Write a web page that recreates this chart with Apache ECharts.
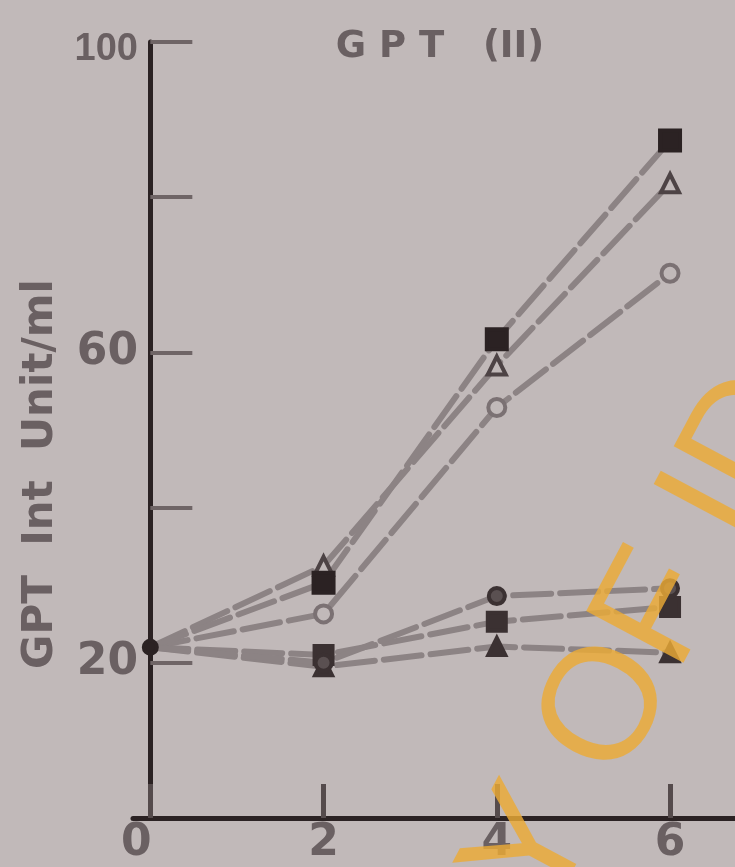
<!DOCTYPE html>
<html>
<head>
<meta charset="utf-8">
<script src="https://cdn.jsdelivr.net/npm/echarts@6/dist/echarts.min.js"></script>
<style>
  html, body { margin: 0; padding: 0; background: #c1b9b9; }
  #chart { width: 735px; height: 867px; }
</style>
</head>
<body>
<div id="chart"></div>
<script>
// Sampling days and serum GPT values (Int Unit/ml)
const days = [0, 2, 4, 6];
const xTickValues = [0, 2, 4, 6];
const yTickValues = [20, 40, 60, 80, 100];
const yLabelValues = [20, 60, 100];

// rising group
const upperSquare   = [22, 30.3, 61.7, 87.3];
const upperTriangle = [22, 32.5, 58.3, 81.8];
const upperCircle   = [22, 26.3, 52.9, 70.2];
// flat group
const lowerSquare   = [22, 21.0, 25.3, 27.2];
const lowerCircle   = [22, 20.0, 28.6, 29.6];
const lowerTriangle = [22, 19.5, 22.1, 21.3];

const BG = '#c1b9b9';
const INK = '#2b2223';
const TEXT = '#6a6062';
const LINE = '#8c8384';

function points(values, origin) {
  return values.map(function (v, i) {
    const item = { value: [days[i], v] };
    if (i === 0 && origin) {
      item.symbol = 'circle';
      item.symbolSize = 13;
      item.itemStyle = { color: INK, borderColor: INK };
    } else if (i === 0) {
      item.symbol = 'none';
    }
    return item;
  });
}

function series(name, values, symbol, size, fill, border, origin) {
  return {
    name: name,
    type: 'line',
    data: points(values, origin),
    symbol: symbol,
    symbolSize: size,
    itemStyle: { color: fill, borderColor: border, borderWidth: 4 },
    lineStyle: { color: LINE, width: 6, type: [38, 9], cap: 'round' },
    z: 3
  };
}

const chart = echarts.init(document.getElementById('chart'), null, { renderer: 'canvas' });

chart.setOption({
  backgroundColor: BG,
  animation: false,
  grid: { left: 133, right: 0, top: 42, bottom: 49 },
  xAxis: {
    type: 'value',
    min: -0.2,
    max: 6.75,
    axisLine: { lineStyle: { color: INK, width: 5 } },
    splitLine: { show: false },
    axisTick: {
      inside: true, length: 34, customValues: xTickValues,
      lineStyle: { color: '#554b4c', width: 5 }
    },
    axisLabel: {
      customValues: xTickValues,
      margin: 4,
      color: TEXT,
      fontFamily: 'DejaVu Sans',
      fontWeight: 'bold',
      fontSize: 44,
      formatter: function (v) { return v === 0 ? '{z|0}' : String(v); },
      rich: {
        z: { fontFamily: 'DejaVu Sans', fontWeight: 'bold', fontSize: 44, color: TEXT, padding: [0, 28, 0, 0] }
      }
    }
  },
  yAxis: {
    type: 'value',
    min: 0,
    max: 100,
    axisLine: { show: true, onZero: true, lineStyle: { color: INK, width: 5 } },
    splitLine: { show: false },
    axisTick: {
      inside: true, length: 42, customValues: yTickValues,
      lineStyle: { color: '#6f6566', width: 4 }
    },
    axisLabel: {
      customValues: yLabelValues,
      margin: -5,
      color: TEXT,
      fontFamily: 'DejaVu Sans',
      fontWeight: 'bold',
      fontSize: 44,
      formatter: function (v) { return v === 100 ? '{s|100}' : String(v); },
      rich: {
        s: { fontFamily: 'Liberation Sans', fontWeight: 'bold', fontSize: 38, color: TEXT, padding: [16, 0, 0, 0] }
      }
    }
  },
  series: [
    series('upperCircle', upperCircle, 'circle', 17, BG, '#7b7173', false),
    series('upperTriangle', upperTriangle, 'triangle', 18, BG, '#4d4345', false),
    series('upperSquare', upperSquare, 'rect', 20, INK, INK, true),
    series('lowerTriangle', lowerTriangle, 'triangle', 17, '#3b3132', '#3b3132', false),
    series('lowerSquare', lowerSquare, 'rect', 18, '#3b3132', '#3b3132', false),
    series('lowerCircle', lowerCircle, 'circle', 16, '#5a5051', '#3b3132', false)
  ],
  graphic: [
    {
      type: 'text',
      x: 440, y: 47,
      style: {
        text: 'G P T   (II)',
        font: 'bold 37px "DejaVu Sans"',
        fill: TEXT,
        textAlign: 'center',
        textVerticalAlign: 'middle'
      }
    },
    {
      type: 'text',
      x: 41, y: 474,
      rotation: Math.PI / 2,
      style: {
        text: 'GPT  Int  Unit/ml',
        font: 'bold 42px "DejaVu Sans"',
        fill: TEXT,
        textAlign: 'center',
        textVerticalAlign: 'middle'
      }
    },
    {
      type: 'text',
      x: 346, y: 1203,
      rotation: Math.PI * 62 / 180,
      z: 10,
      style: {
        text: 'COPY OF ID',
        font: '160px "Liberation Sans"',
        fill: 'rgba(235,171,54,0.82)',
        textAlign: 'left',
        textVerticalAlign: 'middle'
      }
    }
  ]
});
</script>
</body>
</html>
